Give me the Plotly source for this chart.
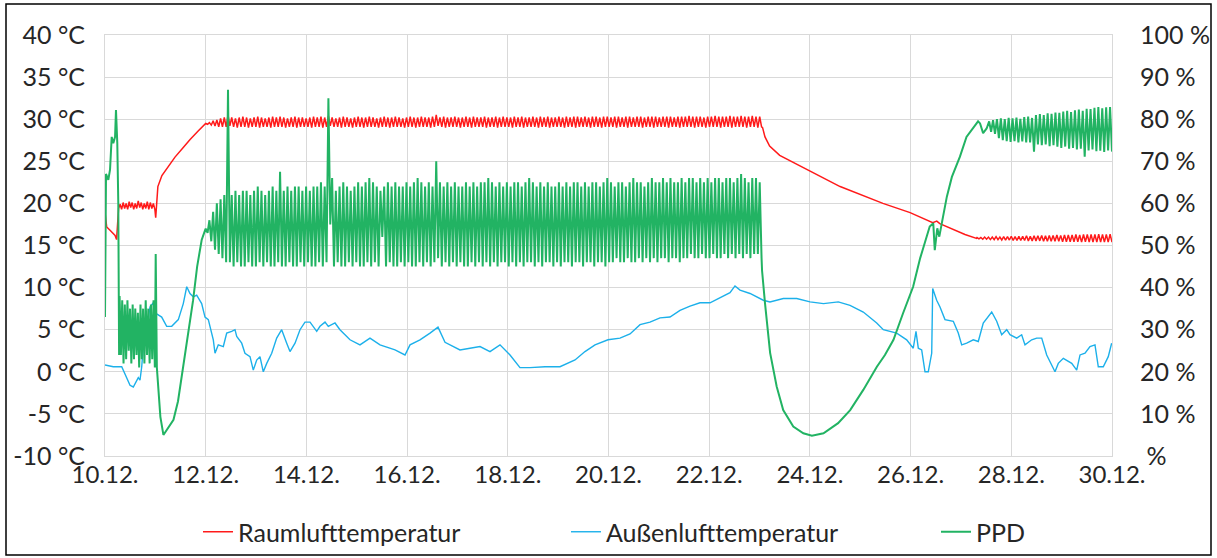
import numpy as np
import pandas as pd
import plotly.graph_objects as go

# ---------------- data (time in day-of-December) ----------------
# Raumlufttemperatur: smooth parts as (t, value), oscillating parts as hi/lo per cycle
red_pre_t = [10.00, 10.034, 10.10, 10.20, 10.23, 10.27]
red_pre_v = [19.0, 17.2, 16.8, 16.2, 15.7, 19.4]
red_a_span = (10.30, 10.99)
red_a_hi = [19.9, 20.1, 20.0, 20.2, 20.1, 20.0, 20.3, 20.1, 20.0, 20.2, 20.1, 20.0]
red_a_lo = [19.3, 19.4, 19.3, 19.5, 19.3, 19.4, 19.5, 19.3, 19.4, 19.3, 19.4, 19.3]
red_mid_t = [11.007, 11.05, 11.13, 11.23, 11.39, 11.55, 11.69, 11.85, 11.99]
red_mid_v = [18.3, 22.0, 23.3, 24.2, 25.5, 26.6, 27.6, 28.6, 29.4]
red_b_span = (12.0, 23.04)
red_b_hi = [29.5, 29.6, 29.8, 29.9, 30.1, 30.2, 30.5, 30.2, 30.1, 30.2, 30.3, 30.2, 30.1, 30.2, 30.3,
            30.2, 30.1, 30.2, 30.3, 30.2, 30.3, 30.2, 30.1, 30.2, 30.3, 30.2, 30.2, 30.1, 30.2, 30.3,
            30.2, 30.3, 30.2, 30.4, 30.2, 30.1, 30.2, 30.3, 30.2, 30.1, 30.2, 30.3, 30.2, 30.2, 30.3,
            30.2, 30.1, 30.2, 30.3, 30.2, 30.2, 30.3, 30.2, 30.1, 30.2, 30.3, 30.2, 30.2, 30.3, 30.2,
            30.2, 30.3, 30.5, 30.2, 30.3, 30.2, 30.2, 30.3, 30.2, 30.2, 30.3, 30.2, 30.3, 30.2, 30.2,
            30.3, 30.2, 30.2, 30.3, 30.2, 30.3, 30.2, 30.2, 30.3, 30.2, 30.3, 30.2, 30.2, 30.3, 30.2,
            30.3, 30.2, 30.3, 30.2, 30.2, 30.3, 30.2, 30.3, 30.2, 30.3, 30.3, 30.2, 30.3, 30.2, 30.3,
            30.3, 30.2, 30.3, 30.3, 30.2, 30.3, 30.3, 30.2, 30.3, 30.3, 30.2, 30.3, 30.3, 30.2, 30.3,
            30.3, 30.3, 30.2, 30.3, 30.3, 30.3, 30.2, 30.3, 30.3, 30.3, 30.4, 30.3, 30.3, 30.3, 30.2,
            30.3, 30.3, 30.4, 30.3, 30.3, 30.3, 30.4, 30.3, 30.3, 30.4, 30.3, 30.3, 30.4, 30.3, 30.3]
red_b_lo = [29.4, 29.3, 29.2, 29.1, 29.1, 29.1, 29.2, 29.1, 29.0, 29.1, 29.1, 29.0, 29.1, 29.1, 29.0,
            29.1, 29.1, 29.0, 29.1, 29.1, 29.1, 29.0, 29.1, 29.1, 29.0, 29.1, 29.1, 29.1, 29.0, 29.1,
            29.1, 29.0, 29.1, 29.2, 29.1, 29.1, 29.0, 29.1, 29.1, 29.0, 29.1, 29.1, 29.0, 29.1, 29.1,
            29.1, 29.0, 29.1, 29.1, 29.0, 29.1, 29.1, 29.1, 29.0, 29.1, 29.1, 29.0, 29.1, 29.1, 29.1,
            29.0, 29.1, 29.2, 29.1, 29.0, 29.1, 29.1, 29.1, 29.0, 29.1, 29.1, 29.0, 29.1, 29.1, 29.1,
            29.0, 29.1, 29.1, 29.0, 29.1, 29.1, 29.1, 29.0, 29.1, 29.1, 29.0, 29.1, 29.1, 29.1, 29.0,
            29.1, 29.1, 29.0, 29.1, 29.1, 29.1, 29.0, 29.1, 29.1, 29.0, 29.1, 29.1, 29.1, 29.0, 29.1,
            29.1, 29.0, 29.1, 29.1, 29.1, 29.0, 29.1, 29.1, 29.0, 29.1, 29.1, 29.1, 29.0, 29.1, 29.1,
            29.0, 29.1, 29.1, 29.1, 29.0, 29.1, 29.1, 29.0, 29.1, 29.1, 29.1, 29.0, 29.1, 29.1, 29.0,
            29.1, 29.1, 29.1, 29.0, 29.1, 29.1, 29.0, 29.1, 29.1, 29.1, 29.0, 29.1, 29.1, 29.0, 29.1]
red_post_t = [23.06, 23.108, 23.20, 23.40, 24.00, 24.60, 25.45, 25.99, 26.44, 26.52, 26.58, 26.78, 27.08, 27.31]
red_post_v = [29.0, 27.9, 26.8, 25.7, 23.8, 22.0, 20.0, 18.9, 17.7, 17.9, 17.6, 17.1, 16.3, 15.85]
red_c_span = (27.32, 30.0)
red_c_hi = [15.95, 15.95, 16.0, 16.0, 16.0, 16.05, 16.0, 16.05, 16.05, 16.1, 16.05, 16.1, 16.1, 16.15,
            16.1, 16.15, 16.15, 16.2, 16.15, 16.2, 16.2, 16.25, 16.2, 16.25, 16.25, 16.25, 16.3, 16.25,
            16.3, 16.3, 16.3, 16.3, 16.35, 16.3, 16.3, 16.35]
red_c_lo = [15.8, 15.75, 15.75, 15.7, 15.7, 15.7, 15.65, 15.65, 15.65, 15.6, 15.6, 15.6, 15.6, 15.55,
            15.55, 15.55, 15.55, 15.5, 15.5, 15.5, 15.5, 15.5, 15.45, 15.45, 15.45, 15.45, 15.45, 15.4,
            15.45, 15.4, 15.4, 15.4, 15.4, 15.4, 15.4, 15.4]

# Außenlufttemperatur
blue_t = [10.0, 10.165, 10.332, 10.397, 10.497, 10.562, 10.661, 10.695, 10.729, 10.761, 10.828, 10.894,
          10.959, 10.993, 11.126, 11.225, 11.325, 11.456, 11.555, 11.623, 11.688, 11.754, 11.821, 11.92,
          11.986, 12.052, 12.151, 12.185, 12.25, 12.35, 12.417, 12.516, 12.582, 12.616, 12.715, 12.78,
          12.88, 12.945, 13.013, 13.078, 13.144, 13.212, 13.311, 13.41, 13.509, 13.609, 13.674, 13.774,
          13.873, 13.972, 14.072, 14.205, 14.27, 14.37, 14.435, 14.568, 14.667, 14.866, 15.064, 15.263,
          15.462, 15.76, 15.958, 16.058, 16.256, 16.455, 16.614, 16.753, 16.852, 17.05, 17.249, 17.448,
          17.646, 17.845, 18.044, 18.143, 18.242, 18.441, 18.739, 19.037, 19.335, 19.533, 19.732, 19.99,
          20.228, 20.427, 20.626, 20.824, 21.023, 21.221, 21.42, 21.619, 21.817, 22.016, 22.215, 22.413,
          22.512, 22.612, 22.811, 23.074, 23.207, 23.472, 23.738, 24.003, 24.27, 24.564, 24.797, 25.06,
          25.327, 25.458, 25.724, 25.922, 26.053, 26.107, 26.153, 26.22, 26.286, 26.351, 26.419, 26.439,
          26.518, 26.584, 26.683, 26.848, 26.947, 27.015, 27.114, 27.245, 27.344, 27.443, 27.611, 27.71,
          27.809, 27.909, 27.974, 28.107, 28.206, 28.272, 28.405, 28.504, 28.604, 28.703, 28.868, 28.933,
          29.033, 29.2, 29.299, 29.365, 29.464, 29.563, 29.662, 29.728, 29.827, 29.926, 29.993]
blue_v = [0.8, 0.6, 0.6, -0.2, -1.6, -1.8, -0.7, -1.0, 0.6, 3.0, 5.0, 7.7,
          8.2, 7.0, 6.5, 5.4, 5.4, 6.2, 8.1, 10.1, 9.3, 8.9, 9.1, 8.1,
          6.5, 6.2, 3.8, 2.2, 3.2, 3.0, 4.6, 4.8, 5.0, 4.2, 3.4, 2.2,
          1.8, 0.2, 1.4, 1.8, 0.0, 1.0, 2.2, 4.0, 5.0, 3.4, 2.4, 3.4,
          5.0, 5.9, 5.9, 4.8, 5.4, 5.9, 5.4, 5.8, 5.0, 3.8, 3.2, 4.0,
          3.2, 2.6, 2.0, 3.2, 3.8, 4.6, 5.3, 3.5, 3.2, 2.6, 2.8, 3.0,
          2.4, 3.2, 2.0, 1.2, 0.5, 0.5, 0.6, 0.6, 1.4, 2.4, 3.2, 3.8,
          4.0, 4.5, 5.6, 5.9, 6.4, 6.5, 7.3, 7.8, 8.2, 8.2, 8.8, 9.4,
          10.2, 9.7, 9.3, 8.5, 8.3, 8.7, 8.7, 8.3, 8.1, 8.3, 7.9, 7.1,
          5.8, 5.0, 4.6, 3.8, 2.8, 4.8, 2.8, 2.6, 0.0, 0.0, 2.2, 9.9,
          8.5, 7.7, 6.2, 6.0, 4.6, 3.2, 3.4, 3.8, 3.6, 5.8, 7.1, 6.0,
          4.4, 5.0, 4.4, 4.0, 4.4, 3.2, 3.8, 4.0, 4.0, 2.0, 0.0, 1.0,
          1.6, 1.0, 0.2, 2.0, 2.2, 3.0, 3.2, 0.6, 0.6, 1.8, 3.4]

# PPD (%)
ppd_pre_t = [10.0, 10.02, 10.066, 10.10, 10.133, 10.165, 10.20, 10.218, 10.244, 10.264, 10.28]
ppd_pre_v = [33, 67, 65.6, 68, 75.8, 74.3, 75.8, 82.2, 74.3, 60, 24]
ppd_a_span = (10.29, 10.99)
ppd_a_hi = [38, 37, 36, 37, 35, 36, 35, 34, 36, 35, 37, 35, 36, 37]
ppd_a_lo = [24, 22, 23, 25, 22, 23, 24, 21, 23, 22, 24, 22, 23, 21]
ppd_mid_t = [11.007, 11.03, 11.10, 11.16, 11.36, 11.45, 11.555, 11.65, 11.75, 11.83, 11.92, 11.99]
ppd_mid_v = [48, 21, 9.3, 5.0, 8.6, 13, 21.2, 29, 37, 45, 51.3, 53.7]
ppd_b_span = (12.0, 23.04)
ppd_b_hi = [54, 56, 58, 60, 61, 62, 87, 62, 63, 62, 63, 63, 62, 63, 64,
            63, 62, 63, 64, 63, 67.5, 63, 64, 63, 64, 64, 63, 64, 63, 64,
            64, 65, 64, 85, 66, 63, 64, 65, 64, 63, 64, 65, 64, 65, 66,
            65, 64, 63, 64, 65, 64, 65, 64, 64, 65, 64, 65, 66, 65, 64,
            65, 64, 70, 65, 64, 65, 64, 65, 64, 64, 65, 64, 65, 64, 65,
            65, 66, 65, 64, 65, 64, 65, 64, 65, 65, 64, 65, 66, 65, 64,
            65, 64, 65, 64, 64, 65, 64, 65, 64, 65, 65, 64, 65, 64, 65,
            65, 64, 65, 66, 65, 64, 65, 65, 64, 65, 66, 65, 65, 64, 65,
            66, 65, 65, 66, 65, 66, 65, 65, 66, 65, 66, 66, 65, 66, 65,
            66, 65, 66, 66, 65, 66, 66, 65, 66, 67, 66, 65, 66, 66, 65]
ppd_b_lo = [53, 51, 49, 48, 47, 46, 46, 45, 46, 45, 45, 46, 45, 45, 46,
            45, 46, 45, 45, 46, 45, 45, 46, 45, 45, 46, 45, 46, 45, 45,
            46, 45, 46, 55, 45, 46, 45, 45, 46, 45, 46, 45, 45, 46, 45,
            46, 45, 52, 45, 46, 45, 45, 46, 45, 46, 45, 45, 46, 45, 46,
            45, 46, 47, 45, 46, 45, 46, 45, 46, 45, 45, 46, 45, 46, 45,
            46, 45, 46, 45, 46, 46, 45, 46, 45, 46, 45, 46, 46, 45, 46,
            45, 46, 46, 45, 46, 45, 46, 46, 45, 46, 46, 45, 46, 46, 45,
            46, 46, 45, 46, 46, 47, 46, 46, 47, 46, 46, 47, 46, 47, 46,
            47, 46, 47, 47, 46, 47, 47, 46, 47, 47, 48, 47, 47, 48, 47,
            47, 48, 47, 47, 48, 47, 48, 47, 48, 47, 48, 47, 48, 48, 47]
ppd_post_t = [23.05, 23.108, 23.21, 23.34, 23.47, 23.67, 23.87, 24.04, 24.27, 24.56, 24.80, 25.06,
              25.33, 25.49, 25.66, 25.85, 26.05, 26.19, 26.38, 26.45, 26.48, 26.53, 26.57, 26.62,
              26.72, 26.82, 26.98, 27.11, 27.28, 27.34, 27.38, 27.44, 27.51]
ppd_post_v = [44, 36.3, 24.5, 16.5, 10.9, 7.0, 5.4, 4.8, 5.4, 7.8, 10.9, 15.7,
              21.2, 24, 27.6, 33.9, 40.2, 47, 54.5, 55.3, 48.9, 54.1, 52.1, 55.3,
              61.6, 66.3, 71.1, 75.8, 78.6, 79.5, 79, 76.7, 77.8]
ppd_c_span = (27.56, 30.0)
ppd_c_hi = [79.5, 79.8, 80.0, 80.2, 80.0, 80.3, 80.2, 80.4, 80.1, 80.5, 80.6, 80.3, 81.0, 81.2, 81.0, 81.4,
            81.3, 81.6, 81.5, 81.8, 82.0, 81.7, 82.1, 82.3, 82.0, 82.5, 82.4, 82.7, 82.9, 82.6, 82.8, 82.9]
ppd_c_lo = [77.0, 76.5, 75.5, 75.0, 74.8, 74.6, 74.8, 74.5, 74.7, 74.5, 74.5, 72.3, 74.0, 73.8, 74.0, 73.6,
            73.8, 73.5, 73.2, 73.5, 73.0, 73.2, 72.8, 73.0, 71.1, 72.6, 72.8, 72.4, 72.5, 72.2, 72.6, 72.3]

tick_days = [10, 12, 14, 16, 18, 20, 22, 24, 26, 28, 30]
y1_ticks = [-10, -5, 0, 5, 10, 15, 20, 25, 30, 35, 40]
y1_text = ["-10 °C", "-5 °C", "0 °C", "5 °C", "10 °C", "15 °C", "20 °C", "25 °C", "30 °C", "35 °C", "40 °C"]
y2_ticks = [0, 10, 20, 30, 40, 50, 60, 70, 80, 90, 100]
y2_text = ["\u00a0%", "10 %", "20 %", "30 %", "40 %", "50 %", "60 %", "70 %", "80 %", "90 %", "100 %"]


# ---------------- assemble series ----------------
def osc(span, hi, lo):
    vals = []
    for h, l in zip(hi, lo):
        vals += [h, l]
    return list(np.linspace(span[0], span[1], len(vals))), vals


def join(*parts):
    t, v = [], []
    for pt, pv in parts:
        t += list(pt)
        v += list(pv)
    return t, v


base = pd.Timestamp("2018-12-10")


def to_dt(t):
    return base + pd.to_timedelta(np.array(t) - 10.0, unit="D")


red_t, red_v = join((red_pre_t, red_pre_v), osc(red_a_span, red_a_hi, red_a_lo), (red_mid_t, red_mid_v),
                    osc(red_b_span, red_b_hi, red_b_lo), (red_post_t, red_post_v),
                    osc(red_c_span, red_c_hi, red_c_lo))
ppd_t, ppd_v = join((ppd_pre_t, ppd_pre_v), osc(ppd_a_span, ppd_a_hi, ppd_a_lo), (ppd_mid_t, ppd_mid_v),
                    osc(ppd_b_span, ppd_b_hi, ppd_b_lo), (ppd_post_t, ppd_post_v),
                    osc(ppd_c_span, ppd_c_hi, ppd_c_lo))

FONT = "Lato, Calibri, Carlito, sans-serif"
GRID = "#d9d9d9"
TXT = "#262626"

fig = go.Figure()
fig.add_trace(go.Scatter(x=to_dt(red_t), y=red_v, name="Raumlufttemperatur", mode="lines", legend="legend",
                         line=dict(color="#ff1a1a", width=1.5)))
fig.add_trace(go.Scatter(x=to_dt(blue_t), y=blue_v, name="Außenlufttemperatur", mode="lines", legend="legend2",
                         line=dict(color="#1cb0ea", width=1.4)))
fig.add_trace(go.Scatter(x=to_dt(ppd_t), y=ppd_v, name="PPD", mode="lines", yaxis="y2", legend="legend3",
                         line=dict(color="#22b363", width=2.0)))

W, H = 1217, 558
L, R, T, B = 105, 105, 35, 102
pw, ph = W - L - R, H - T - B
leg_y = -(532 - 456) / ph


def leg(px):
    return dict(orientation="h", x=(px - L) / pw, xanchor="left", y=leg_y, yanchor="middle",
                font=dict(size=25, color=TXT, family=FONT), bgcolor="rgba(0,0,0,0)")


fig.update_layout(
    width=W, height=H,
    margin=dict(l=L, r=R, t=T, b=B, autoexpand=False),
    paper_bgcolor="white", plot_bgcolor="white",
    font=dict(family=FONT, size=25, color=TXT),
    showlegend=True,
    legend=leg(198), legend2=leg(566), legend3=leg(936),
    xaxis=dict(type="date", range=[to_dt([10])[0], to_dt([30])[0]],
               tickvals=list(to_dt(tick_days)), tickformat="%d.%m.",
               showgrid=True, gridcolor=GRID, gridwidth=1, zeroline=False,
               showline=True, linecolor=GRID, mirror=True, ticks="",
               ticklabelstandoff=-3, tickfont=dict(size=24)),
    yaxis=dict(range=[-10, 40], tickvals=y1_ticks, ticktext=y1_text,
               showgrid=True, gridcolor=GRID, gridwidth=1, zeroline=False,
               showline=True, linecolor=GRID, mirror=True, ticks="",
               ticklabelstandoff=14, tickfont=dict(size=25)),
    yaxis2=dict(range=[0, 100], tickvals=y2_ticks, ticktext=y2_text, overlaying="y", side="right",
                showgrid=False, zeroline=False, showline=False, ticks="",
                ticklabelstandoff=27, tickfont=dict(size=25)),
    shapes=[dict(type="rect", xref="paper", yref="paper",
                 x0=(6 - L) / pw, x1=(1211 - L) / pw, y0=-(555 - 456) / ph, y1=(456 - 4) / ph,
                 line=dict(color="black", width=1.5), fillcolor="rgba(0,0,0,0)", layer="below")],
)

fig.write_html("out.html", config={"displayModeBar": False},
               post_script="document.body.style.margin='0px';document.body.style.overflow='hidden';")
